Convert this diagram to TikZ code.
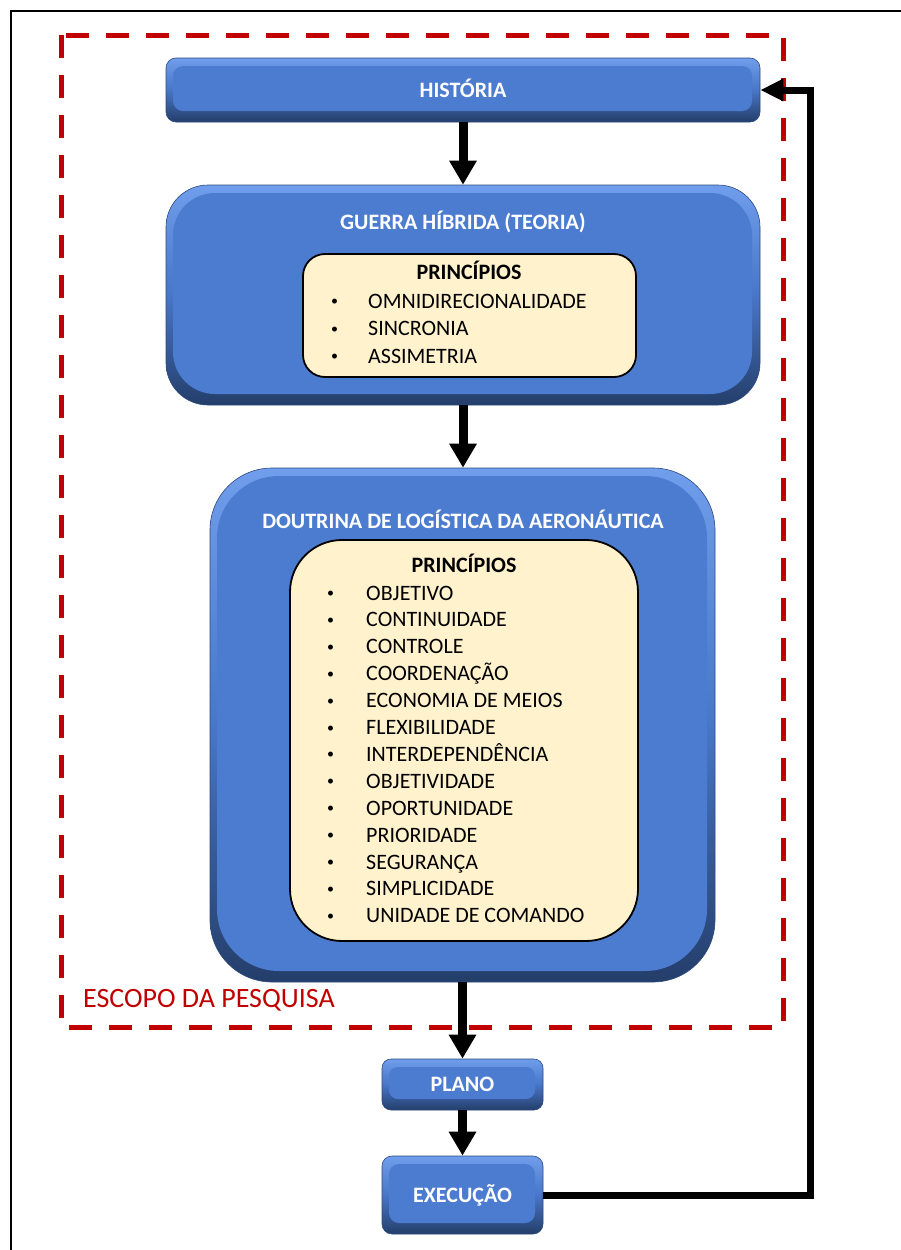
\documentclass[tikz,border=0pt]{standalone}
\usepackage{fontspec}
\setmainfont{Carlito}
\usetikzlibrary{arrows.meta}
\definecolor{blmain}{RGB}{76,124,208}
\definecolor{bltop}{RGB}{112,158,236}
\definecolor{blmid}{RGB}{72,118,200}
\definecolor{blbot}{RGB}{36,62,106}
\definecolor{bledge}{RGB}{44,74,126}
\definecolor{creamc}{RGB}{255,242,204}
\definecolor{redc}{RGB}{192,0,0}
\newcommand{\smallbul}{\raisebox{2.5pt}{\fontsize{14}{14}\selectfont\textbullet}}
\begin{document}
\begin{tikzpicture}[x=1pt,y=-1pt,
  bev/.style={rounded corners=#1, draw=bledge, line width=0.6pt,
    top color=bltop, bottom color=blbot, middle color=blmid,
    text=white, font=\bfseries\fontsize{22}{26}\selectfont, inner sep=0pt,
    path picture={\fill[blmain, rounded corners=#1]
      ([shift={(7pt,11pt)}]path picture bounding box.south west) rectangle
      ([shift={(-8pt,-8pt)}]path picture bounding box.north east);}},
  cream/.style={rounded corners=#1, draw=black, line width=1.8pt, fill=creamc, inner sep=0pt},
  ttl/.style={text=white, font=\bfseries\fontsize{22}{26}\selectfont, inner sep=0pt},
  hdr/.style={text=black, font=\bfseries\fontsize{22}{26}\selectfont, inner sep=0pt, anchor=base},
  item/.style={text=black, font=\fontsize{22}{26}\selectfont, inner sep=0pt, anchor=base west},
  arr/.style={line width=9pt, -{Triangle[length=24pt,width=26pt]}},
  fb/.style={line width=7pt, -{Triangle[length=23pt,width=21pt]}},
  scopebox/.style={draw=redc, line width=5pt, dash pattern=on 23pt off 17pt},
]
\useasboundingbox[fill=white] (0,0) rectangle (901,1250);
% outer frame
\draw[line width=2pt] (901,11) -- (11,11) -- (11,1250);
% research scope
\draw[scopebox] (61,35) rectangle (783,1027);
\node[anchor=west, text=redc, font=\fontsize{28}{32}\selectfont, inner sep=0pt] (escopo) at (83,1000) {ESCOPO DA PESQUISA};

% boxes
\node[bev=10pt, minimum width=594pt, minimum height=64pt] (hist) at (463,90) {\raisebox{2.5pt}{HISTÓRIA}};
\node[bev=42pt, minimum width=594pt, minimum height=220pt] (guerra) at (463,295) {};
\node[ttl] (guerrat) at (463,222) {GUERRA HÍBRIDA (TEORIA)};
\node[cream=22pt, minimum width=333pt, minimum height=123pt] (gin) at (469.5,315.5) {};
\node[hdr] (gh) at (469,279) {PRINCÍPIOS};
\foreach \t [count=\i from 0] in {OMNIDIRECIONALIDADE, SINCRONIA, ASSIMETRIA}
  \node[item] (gi\i) at (331,{308+27.5*\i}) {\makebox[37pt][l]{\smallbul}\t};

\node[bev=62pt, minimum width=505pt, minimum height=514pt] (dla) at (462.5,725) {};
\node[ttl] (dlat) at (463,519.5) {DOUTRINA DE LOGÍSTICA DA AERONÁUTICA};
\node[cream=52pt, minimum width=348pt, minimum height=401pt] (din) at (464,740.5) {};
\node[hdr] (dh) at (464,572) {PRINCÍPIOS};
\foreach \t [count=\i from 0] in {OBJETIVO, CONTINUIDADE, CONTROLE, COORDENAÇÃO, ECONOMIA DE MEIOS, FLEXIBILIDADE, INTERDEPENDÊNCIA, OBJETIVIDADE, OPORTUNIDADE, PRIORIDADE, SEGURANÇA, SIMPLICIDADE, UNIDADE DE COMANDO}
  \node[item] (di\i) at (327,{600+26.9*\i}) {\makebox[39pt][l]{\smallbul}\t};

\node[bev=9pt, minimum width=161pt, minimum height=51pt] (plano) at (462.5,1084.5) {PLANO};
\node[bev=10pt, minimum width=161pt, minimum height=78pt] (exec) at (462.5,1195) {\raisebox{1pt}{EXECUÇÃO}};

% connectors
\coordinate (fbx) at (810,0);
\draw[arr] (hist.south) -- (guerra.north);
\draw[arr] (guerra.south) -- (guerra.south |- dla.north);
\draw[arr] (dla.south) -- (plano.north);
\draw[arr] (plano.south) -- (exec.north);
\draw[fb] (exec.east) -- (exec.east -| fbx) |- (hist.east);
\end{tikzpicture}
\end{document}
